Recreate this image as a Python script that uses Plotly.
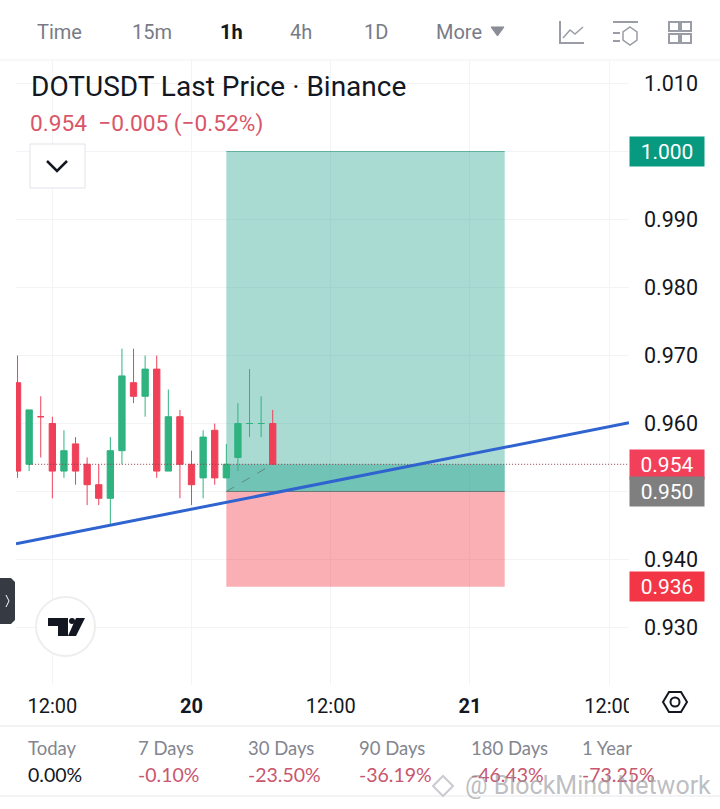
import pandas as pd
import plotly.graph_objects as go

W, H = 720, 809

opens = [.966, .954, .961, .960, .953, .957, .954, .951, .949, .956, .966, .964, .968,
         .953, .961, .954, .952, .959, .952, .955, .960, .960, .960]
highs = [.970, .962, .964, .961, .959, .958, .955, .954, .958, .971, .971, .970, .970,
         .965, .962, .956, .959, .960, .957, .963, .968, .964, .962]
lows = [.952, .953, .955, .949, .952, .951, .948, .948, .945, .954, .963, .961, .952,
        .953, .949, .948, .949, .951, .952, .953, .958, .958, .954]
closes = [.953, .962, .961, .953, .956, .953, .951, .949, .956, .967, .964, .968, .953,
          .961, .954, .951, .958, .952, .954, .960, .960, .960, .954]
times = pd.date_range("2026-02-19 09:00", periods=len(opens), freq="h")

last_price = 0.954
entry = 0.950
target = 1.000
stop = 0.936
pos_start = "2026-02-20 03:00"
pos_end = "2026-02-21 03:00"

trend_x = ["2026-02-19 08:52", "2026-02-21 13:43"]
trend_y = [0.9423, 0.9601]

y_ticks = [0.93, 0.94, 0.95, 0.96, 0.97, 0.98, 0.99, 1.00, 1.01]
y_labels = ["0.930", "0.940", "", "0.960", "0.970", "0.980", "0.990", "", "1.010"]
x_ticks = ["2026-02-19 12:00", "2026-02-20 00:00", "2026-02-20 12:00", "2026-02-21 00:00", "2026-02-21 12:00"]
x_labels = ["12:00", "<b>20</b>", "12:00", "<b>21</b>", "12:00"]

tabs = ["Time", "15m", "1h", "4h", "1D", "More"]
tab_x = [37, 132, 220, 290, 364, 436]
stat_names = ["Today", "7 Days", "30 Days", "90 Days", "180 Days", "1 Year"]
stat_values = ["0.00%", "-0.10%", "-23.50%", "-36.19%", "-46.43%", "-73.25%"]
stat_x = [28, 138, 248, 359, 471, 582]

GREEN = "#2fb380"
RED = "#ef4058"
TEAL = "rgba(8,153,129,0.35)"
PINK = "rgba(242,54,69,0.4)"
GRID = "#f3f4f6"
ICON = "#9a9da5"


def px(x):
    return x / W


def py(y):
    return 1 - y / H


def text(s, x, y, size, color="#131722", anchor="left", family="Roboto", **kw):
    fig.add_annotation(text=s, x=px(x), y=py(y), xref="paper", yref="paper", showarrow=False,
                       xanchor=anchor, yanchor="middle", borderpad=0, borderwidth=0,
                       font=dict(size=size, color=color, family=family), **kw)


def path(points, color=ICON, width=2, close=False, fill=None):
    d = "M" + " L".join(f"{px(a):.5f},{py(b):.5f}" for a, b in points)
    if close:
        d += " Z"
    fig.add_shape(type="path", path=d, xref="paper", yref="paper", layer="above",
                  line=dict(color=color, width=width), fillcolor=fill)


def box(x0, y0, x1, y1, color=None, fill=None, width=1):
    fig.add_shape(type="rect", x0=px(x0), x1=px(x1), y0=py(y0), y1=py(y1), xref="paper", yref="paper",
                  layer="above", line=dict(color=color, width=width if color else 0), fillcolor=fill)


def tag(label, value, color):
    fig.add_annotation(text=label, x=px(629), y=value, xref="paper", yref="y", showarrow=False,
                       xanchor="left", yanchor="middle", width=72, height=27, align="center", bgcolor=color,
                       font=dict(size=21, color="white", family="Roboto"))


fig = go.Figure()

fig.add_trace(go.Candlestick(x=times, open=opens, high=highs, low=lows, close=closes,
                             whiskerwidth=0, showlegend=False,
                             increasing=dict(line=dict(color=GREEN, width=1), fillcolor=GREEN),
                             decreasing=dict(line=dict(color=RED, width=1), fillcolor=RED)))

# position zones sit under the candles
fig.add_shape(type="rect", x0=pos_start, x1=pos_end, y0=entry, y1=target, layer="between",
              line_width=0, fillcolor=TEAL)
fig.add_shape(type="rect", x0=pos_start, x1=pos_end, y0=stop, y1=entry, layer="between",
              line_width=0, fillcolor=PINK)
fig.add_shape(type="rect", x0=pos_start, x1=pos_end, y0=entry, y1=last_price, layer="between",
              line_width=0, fillcolor=TEAL)
fig.add_shape(type="line", x0=pos_start, x1=pos_end, y0=target, y1=target, layer="between",
              line=dict(color="#5fae9f", width=1))
fig.add_shape(type="line", x0=pos_start, x1=pos_end, y0=entry, y1=entry, layer="between",
              line=dict(color="#6c7a78", width=1))

fig.add_trace(go.Scatter(x=[pos_start, times[-1]], y=[entry, last_price], mode="lines", showlegend=False,
                         line=dict(color="#5f8a80", width=1, dash="dash")))
fig.add_trace(go.Scatter(x=[times[1], trend_x[1]], y=[last_price, last_price], mode="lines", showlegend=False,
                         line=dict(color="#8c3b47", width=1, dash="1px,2px")))
fig.add_trace(go.Scatter(x=trend_x, y=trend_y, mode="lines", showlegend=False,
                         line=dict(color="#2f63d0", width=3)))

fig.update_layout(
    width=W, height=H, margin=dict(l=0, r=0, t=0, b=0, autoexpand=False),
    paper_bgcolor="white", plot_bgcolor="white", showlegend=False, boxgap=0.22,
    font=dict(family="Roboto", color="#131722"),
    xaxis=dict(domain=[px(16), px(629)], type="date", range=trend_x, rangeslider=dict(visible=False),
               tickmode="array", tickvals=x_ticks, ticktext=x_labels, tickangle=0,
               gridcolor=GRID, gridwidth=1, showline=False, ticks="outside", ticklen=3, tickcolor="white",
               tickfont=dict(size=20, family="Roboto", color="#131722"), zeroline=False),
    yaxis=dict(domain=[py(685), py(60)], side="right", range=[0.92154, 1.01346],
               tickmode="array", tickvals=y_ticks, ticktext=y_labels, gridcolor=GRID, gridwidth=1,
               showline=False, zeroline=False, ticks="", ticklabelstandoff=14,
               tickfont=dict(size=21.5, family="Roboto", color="#131722")),
)

# price tags on the right axis
tag("1.000", target, "#089981")
tag("0.954", last_price, "#f23f5a")
tag("0.950", entry, "#7f7f7f")
tag("0.936", stop, "#f23645")

# top tab bar
for name, x in zip(tabs, tab_x):
    if name == "1h":
        text("<b>1h</b>", x, 32, 20)
    else:
        text(name, x, 32, 20, color="#787b86")
path([(491, 27), (504, 27), (497.5, 36)], color="#8a8d95", width=1, close=True, fill="#8a8d95")
fig.add_shape(type="line", x0=0, x1=1, y0=py(60), y1=py(60), xref="paper", yref="paper",
              line=dict(color="#f0f1f3", width=1))

# toolbar icons
path([(560, 21), (560, 43), (584, 43)])
path([(563, 38), (570, 30), (575, 34), (583, 27)], width=1.5)
path([(613, 22), (638, 22)])
path([(613, 33), (620, 33)])
path([(613, 41), (620, 41)])
path([(630, 27), (637, 32), (637, 40), (630, 45), (623, 40), (623, 32)], width=1.5, close=True)
for x0, y0 in [(669, 22), (681, 22), (669, 34), (681, 34)]:
    box(x0, y0, x0 + 10, y0 + 9, color=ICON, width=2)

# chart title
text("DOTUSDT Last Price · Binance", 31, 87, 28)
text("0.954  −0.005 (−0.52%)", 30, 124, 22.7, color="#d9566a")

# collapse button
box(30, 144, 85, 188, color="#e0e3eb", fill="white")
path([(47, 161), (57, 171), (67, 161)], color="#131722", width=2.5)

# left handle and tradingview logo
path([(0, 578), (11, 578), (15, 582), (15, 620), (11, 624), (0, 624)], color="#363a42", width=0, close=True, fill="#363a42")
path([(6, 595), (9, 601), (6, 607)], color="white", width=1)
fig.add_shape(type="circle", x0=px(36), x1=px(95), y0=py(656), y1=py(597), xref="paper", yref="paper",
              layer="above", line=dict(color="#eeeeee", width=2), fillcolor="white")
path([(48, 618), (68, 618), (68, 636), (58, 636), (58, 626), (48, 626)], color="#131722", width=0, close=True, fill="#131722")
path([(76, 618), (85, 618), (76, 636), (68, 636)], color="#131722", width=0, close=True, fill="#131722")
fig.add_shape(type="circle", x0=px(69), x1=px(75), y0=py(624), y1=py(618), xref="paper", yref="paper",
              layer="above", line_width=0, fillcolor="#131722")

# hide the end of the last time label, settings icon on the axis
box(629, 688, 720, 716, fill="white")
path([(663, 702), (669, 692), (681, 692), (687, 702), (681, 712), (669, 712)], color="#131722", width=2, close=True)
fig.add_shape(type="circle", x0=px(670.5), x1=px(679.5), y0=py(706.5), y1=py(697.5), xref="paper", yref="paper",
              layer="above", line=dict(color="#131722", width=2))

# performance row
fig.add_shape(type="line", x0=0, x1=1, y0=py(726), y1=py(726), xref="paper", yref="paper",
              line=dict(color="#e6e7ea", width=1))
fig.add_shape(type="line", x0=0, x1=1, y0=py(796), y1=py(796), xref="paper", yref="paper",
              line=dict(color="#e6e7ea", width=1))
for name, val, x in zip(stat_names, stat_values, stat_x):
    text(name, x, 748, 18.5, color="#83868f", family="Lato")
    text(val, x, 774, 19.5, color="#131722" if val == "0.00%" else "#c9566f", family="Lato")

# watermark
path([(443, 776), (453, 786), (443, 796), (433, 786)], color="#c9cbd0", width=2, close=True)
text("@ BlockMind Network", 465, 785, 25, color="rgba(150,153,160,0.65)")

# plotly's page keeps the browser's 8px body margin, drop it
fig.write_html("out.html", default_width="720px", default_height="809px",
               config={"displayModeBar": False, "responsive": False},
               post_script="document.body.style.margin='0';document.documentElement.style.overflow='hidden';")
